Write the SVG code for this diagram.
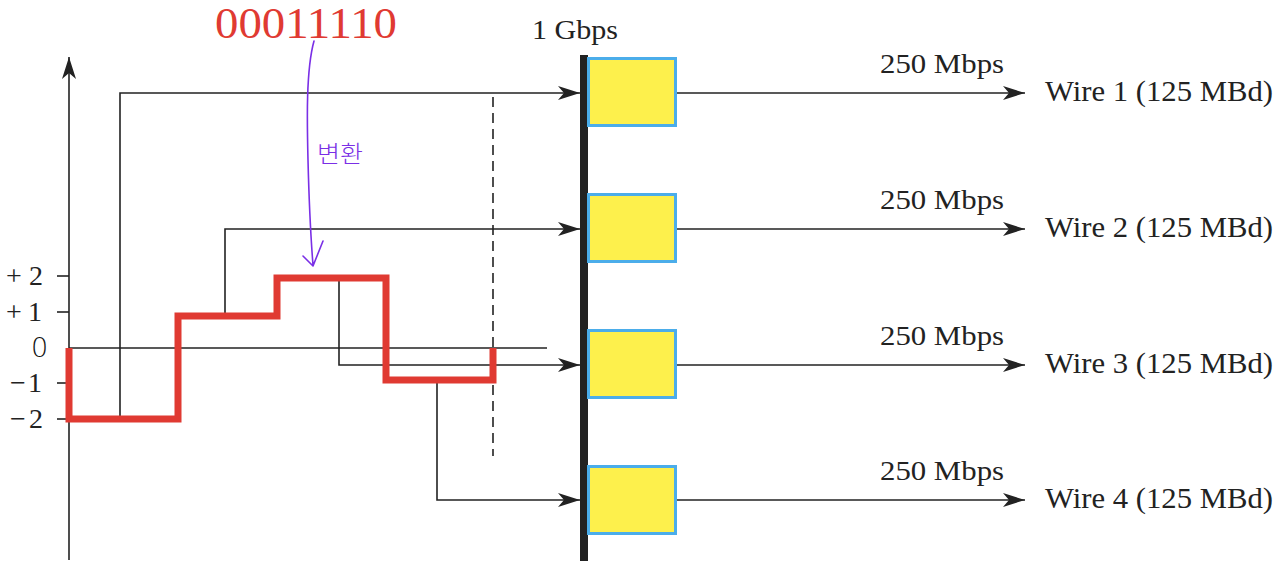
<svg xmlns="http://www.w3.org/2000/svg" width="1280" height="571" viewBox="0 0 1280 571">
<style>
.t{font-family:"Liberation Serif","Times New Roman",serif;fill:#222}
.ln{fill:none;stroke:#222;stroke-width:1.6}
.box{fill:#fdf04c;stroke:#4badea;stroke-width:3}
</style>
<defs>
<marker id="ah" markerWidth="24" markerHeight="16" refX="22" refY="8" orient="auto" markerUnits="userSpaceOnUse">
<path d="M0,1 L22,8 L0,15 L6,8 Z" fill="#222"/>
</marker>
</defs>
<rect width="1280" height="571" fill="#fff"/>
<g id="axis">
<line x1="69" y1="560" x2="69" y2="57" class="ln" marker-end="url(#ah)"/>
<g class="ln">
<line x1="57" y1="276" x2="69" y2="276"/>
<line x1="57" y1="312" x2="69" y2="312"/>
<line x1="57" y1="383" x2="69" y2="383"/>
<line x1="57" y1="419" x2="69" y2="419"/>
<line x1="69" y1="348" x2="547" y2="348"/>
</g>
<text class="t" x="6" y="285" font-size="28" textLength="37" lengthAdjust="spacing">+2</text>
<text class="t" x="6" y="321" font-size="28" textLength="36" lengthAdjust="spacing">+1</text>
<text x="31" y="357" font-size="27" font-family="DejaVu Sans, sans-serif" font-weight="200" fill="#111">0</text>
<text class="t" x="10" y="392" font-size="28" textLength="32" lengthAdjust="spacing">−1</text>
<text class="t" x="10" y="428" font-size="28" textLength="33" lengthAdjust="spacing">−2</text>
</g>
<g id="connectors">
<polyline class="ln" points="120,419 120,93 580,93" marker-end="url(#ah)"/>
<polyline class="ln" points="225,316 225,229 580,229" marker-end="url(#ah)"/>
<polyline class="ln" points="339,276 339,365 580,365" marker-end="url(#ah)"/>
<polyline class="ln" points="437,380 437,500 580,500" marker-end="url(#ah)"/>
<line class="ln" x1="493" y1="97" x2="493" y2="456" stroke-dasharray="10,6" stroke-width="2"/>
<line class="ln" x1="677" y1="93" x2="1025" y2="93" marker-end="url(#ah)"/>
<line class="ln" x1="677" y1="229" x2="1025" y2="229" marker-end="url(#ah)"/>
<line class="ln" x1="677" y1="365" x2="1025" y2="365" marker-end="url(#ah)"/>
<line class="ln" x1="677" y1="500" x2="1025" y2="500" marker-end="url(#ah)"/>
</g>
<g id="signal">
<polyline points="69,348 69,419 178,419 178,316 277,316 277,278 386,278 386,380 493,380 493,348" fill="none" stroke="#e03a32" stroke-width="7"/>
</g>
<g id="bus">
<rect x="580" y="55" width="8" height="506" fill="#222"/>
<text class="t" x="532" y="39" font-size="27" textLength="86" lengthAdjust="spacingAndGlyphs">1 Gbps</text>
</g>
<g id="encoder1"><rect class="box" x="588.5" y="58.5" width="87" height="67"/></g>
<g id="encoder2"><rect class="box" x="588.5" y="194.5" width="87" height="67"/></g>
<g id="encoder3"><rect class="box" x="588.5" y="330.5" width="87" height="67"/></g>
<g id="encoder4"><rect class="box" x="588.5" y="466.5" width="87" height="67"/></g>
<g id="labels" class="t">
<text class="t" x="880" y="73" font-size="27" textLength="124" lengthAdjust="spacingAndGlyphs">250 Mbps</text>
<text class="t" x="880" y="209" font-size="27" textLength="124" lengthAdjust="spacingAndGlyphs">250 Mbps</text>
<text class="t" x="880" y="345" font-size="27" textLength="124" lengthAdjust="spacingAndGlyphs">250 Mbps</text>
<text class="t" x="880" y="480" font-size="27" textLength="124" lengthAdjust="spacingAndGlyphs">250 Mbps</text>
<text class="t" x="1045" y="101" font-size="30" textLength="228" lengthAdjust="spacingAndGlyphs">Wire 1 (125 MBd)</text>
<text class="t" x="1045" y="237" font-size="30" textLength="228" lengthAdjust="spacingAndGlyphs">Wire 2 (125 MBd)</text>
<text class="t" x="1045" y="373" font-size="30" textLength="228" lengthAdjust="spacingAndGlyphs">Wire 3 (125 MBd)</text>
<text class="t" x="1045" y="508" font-size="30" textLength="228" lengthAdjust="spacingAndGlyphs">Wire 4 (125 MBd)</text>
</g>
<g id="annotation">
<text x="215" y="38" font-size="44" font-family="Liberation Serif, serif" fill="#e03a32" textLength="182" lengthAdjust="spacingAndGlyphs">00011110</text>
<path d="M314,41 C306,70 307,120 308,160 C309,200 311,240 313,265 M303,256 L313,266 L323,241" fill="none" stroke="#7a2fe6" stroke-width="1.6" stroke-linecap="round" stroke-linejoin="round"/>
<text x="317" y="162" font-size="23" font-family="Noto Sans CJK KR, sans-serif" font-weight="300" fill="#7a2fe6" textLength="46" lengthAdjust="spacingAndGlyphs">변환</text>
</g>
</svg>
